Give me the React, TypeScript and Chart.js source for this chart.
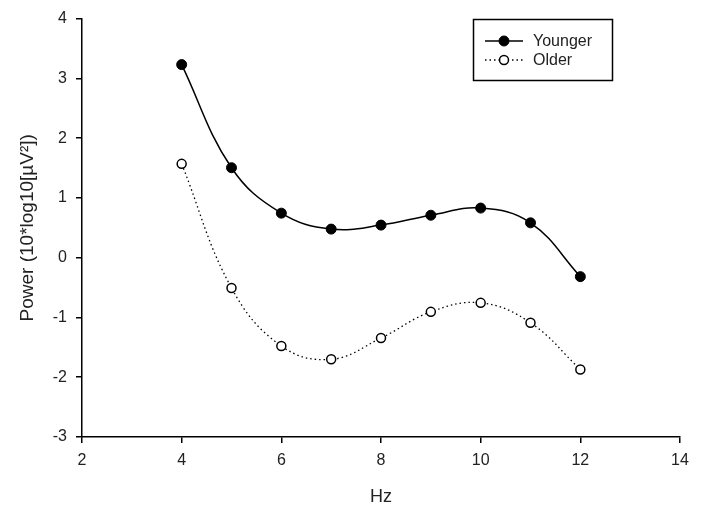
import React, { useEffect, useRef } from 'react';
import { Chart, registerables } from 'chart.js';

Chart.register(...registerables);

const frequencies = [4, 5, 6, 7, 8, 9, 10, 11, 12];
const youngerPower = [3.23, 1.505, 0.745, 0.478, 0.545, 0.71, 0.83, 0.583, -0.317];
const olderPower = [1.57, -0.506, -1.478, -1.7, -1.345, -0.906, -0.756, -1.089, -1.872];
const seriesLabels = ['Younger', 'Older'];
const xTitle = 'Hz';
const yTitle = 'Power (10*log10[µV²])';

const FONT = "'Liberation Sans', Arial, sans-serif";

const boxLegend = {
  id: 'boxLegend',
  afterDraw(chart: any) {
    const ctx = chart.ctx;
    ctx.save();
    const x0 = 473.5, y0 = 19.5, w = 139, h = 61;
    ctx.strokeStyle = '#000';
    ctx.lineWidth = 1.5;
    ctx.strokeRect(x0, y0, w, h);
    chart.data.datasets.forEach((ds: any, i: number) => {
      const y = 41 + i * 19;
      ctx.beginPath();
      ctx.setLineDash(ds.borderDash || []);
      ctx.lineWidth = ds.borderWidth;
      ctx.strokeStyle = '#000';
      ctx.moveTo(485, y);
      ctx.lineTo(523, y);
      ctx.stroke();
      ctx.setLineDash([]);
      ctx.beginPath();
      ctx.arc(504, y, ds.pointRadius, 0, Math.PI * 2);
      ctx.fillStyle = ds.pointBackgroundColor;
      ctx.fill();
      ctx.lineWidth = ds.pointBorderWidth;
      ctx.strokeStyle = ds.pointBorderColor;
      ctx.stroke();
      ctx.fillStyle = '#222';
      ctx.font = `16px ${FONT}`;
      ctx.textBaseline = 'middle';
      ctx.textAlign = 'left';
      ctx.fillText(ds.label, 533, y + 1);
    });
    ctx.restore();
  },
};

export default function App() {
  const ref = useRef<HTMLCanvasElement>(null);
  useEffect(() => {
    if (!ref.current) return;
    const chart = new Chart(ref.current, {
      type: 'line',
      data: {
        datasets: [
          {
            label: seriesLabels[0],
            data: frequencies.map((f, i) => ({ x: f, y: youngerPower[i] })),
            borderColor: '#000',
            borderWidth: 1.5,
            tension: 0.4,
            pointRadius: 5,
            pointBackgroundColor: '#000',
            pointBorderColor: '#000',
            pointBorderWidth: 1,
            fill: false,
          },
          {
            label: seriesLabels[1],
            data: frequencies.map((f, i) => ({ x: f, y: olderPower[i] })),
            borderColor: '#000',
            borderWidth: 1.3,
            borderDash: [1.5, 3],
            tension: 0.4,
            pointRadius: 4.5,
            pointBackgroundColor: '#fff',
            pointBorderColor: '#000',
            pointBorderWidth: 1.5,
            fill: false,
          },
        ],
      },
      options: {
        responsive: false,
        animation: false,
        layout: { padding: { left: 0, right: 24, top: 17, bottom: 0 } },
        plugins: { legend: { display: false }, tooltip: { enabled: false } },
        scales: {
          x: {
            type: 'linear',
            min: 2,
            max: 14,
            afterFit: (s: any) => { s.height = 77; },
            ticks: { stepSize: 2, color: '#222', font: { family: FONT, size: 16 }, padding: 8, maxRotation: 0 },
            grid: { drawOnChartArea: false, drawTicks: true, tickLength: 6, color: '#000', lineWidth: 1.5 },
            border: { display: true, color: '#000', width: 1.5 },
            title: { display: true, text: xTitle, color: '#222', font: { family: FONT, size: 18 }, padding: { top: 0, bottom: 6 } },
          },
          y: {
            type: 'linear',
            min: -3,
            max: 4,
            afterFit: (s: any) => { s.width = 82; },
            ticks: { stepSize: 1, color: '#222', font: { family: FONT, size: 16 }, padding: 9 },
            grid: { drawOnChartArea: false, drawTicks: true, tickLength: 6, color: '#000', lineWidth: 1.5 },
            border: { display: true, color: '#000', width: 1.5 },
            title: { display: true, text: yTitle, color: '#222', font: { family: FONT, size: 19 }, padding: { top: 16, bottom: 0 } },
          },
        },
      },
      plugins: [boxLegend],
    });
    return () => chart.destroy();
  }, []);
  return (
    <div style={{ position: 'fixed', left: 0, top: 0, width: 704, height: 514, background: '#fff' }}>
      <canvas ref={ref} width={704} height={514} />
    </div>
  );
}
